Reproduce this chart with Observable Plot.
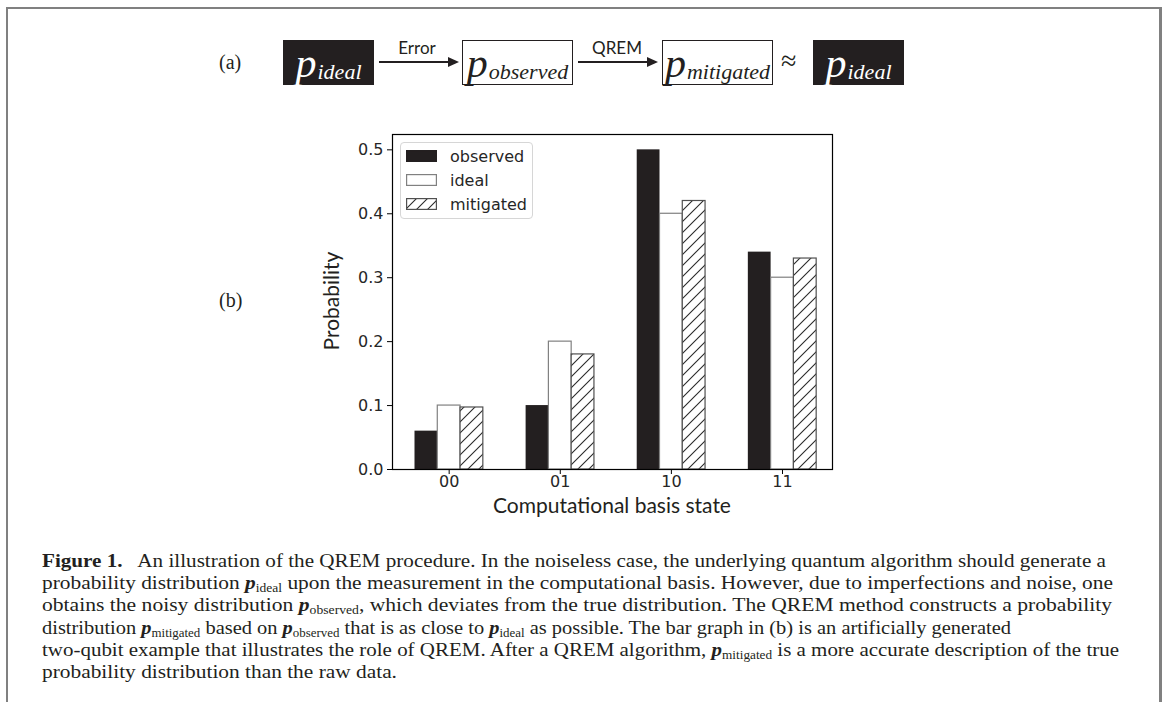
<!DOCTYPE html>
<html>
<head>
<meta charset="utf-8">
<script src="https://cdn.jsdelivr.net/npm/d3@7"></script>
<script src="https://cdn.jsdelivr.net/npm/@observablehq/plot@0.6"></script>
<style>
  html, body { margin: 0; padding: 0; background: #fff; }
  #page { position: relative; width: 1165px; height: 702px; overflow: hidden; background: #fff; color: #231f20; }
  .abs { position: absolute; }
  .frameline { position: absolute; background: #808080; }
  .serif { font-family: "Liberation Serif", "DejaVu Serif", serif; }
  .box { position: absolute; box-sizing: border-box; display: flex; align-items: center; justify-content: center;
         font-family: "Liberation Serif", serif; font-style: italic; white-space: nowrap; }
  .box.dark { background: #231f20; color: #fff; }
  .box.light { background: #fff; color: #231f20; border: 1.3px solid #231f20; }
  .box .p { font-size: 42px; line-height: 1; }
  .box .sub { font-size: 22px; position: relative; top: 9px; margin-left: 1px; }
  .arrowlbl { position: absolute; font-family: Lato, "Open Sans", sans-serif; font-size: 17px; transform: translateX(-50%); white-space: nowrap; }
  .cap { position: absolute; left: 42px; font-family: "Liberation Serif", serif; font-size: 19px; white-space: nowrap; transform-origin: 0 50%; color: #231f20; }
  .cap sub { font-size: 12px; vertical-align: -3px; line-height: 0; }
  .cap .pv { font-weight: bold; font-style: italic; }
  #legend { position: absolute; left: 400px; top: 142px; width: 133px; height: 77px; box-sizing: border-box;
            border: 1px solid #d6d6d6; border-radius: 4px; background: rgba(255,255,255,0.85);
            font-family: "DejaVu Sans", sans-serif; font-size: 16px; color: #262626; }
  .lg { position: absolute; left: 5px; height: 20px; display: flex; align-items: center; }
  .lg svg { margin-right: 13px; }
  .axlbl { position: absolute; font-family: Lato, "Open Sans", sans-serif; font-size: 21px; color: #231f20; white-space: nowrap; }
</style>
</head>
<body>
<div id="page">
  <div class="frameline" style="left:6px; top:7px; width:1155px; height:2px;"></div>
  <div class="frameline" style="left:6px; top:7px; width:2px; height:700px;"></div>
  <div class="frameline" style="left:1159px; top:7px; width:2.5px; height:700px;"></div>

  <!-- (a) diagram -->
  <div class="abs serif" style="left:219px; top:51px; font-size:20px;">(a)</div>
  <div class="box dark" style="left:283px; top:40px; width:91px; height:45px;"><span class="p">p</span><span class="sub">ideal</span></div>
  <svg class="abs" style="left:376px; top:52px;" width="86" height="20"><line x1="3" y1="10" x2="74" y2="10" stroke="#231f20" stroke-width="2"/><path d="M72,5 L83,10 L72,15 Z" fill="#231f20"/></svg>
  <div class="arrowlbl" style="left:417px; top:37px;">Error</div>
  <div class="box light" style="left:462px; top:40px; width:111px; height:45px;"><span class="p">p</span><span class="sub">observed</span></div>
  <svg class="abs" style="left:575px; top:52px;" width="86" height="20"><line x1="3" y1="10" x2="74" y2="10" stroke="#231f20" stroke-width="2"/><path d="M72,5 L83,10 L72,15 Z" fill="#231f20"/></svg>
  <div class="arrowlbl" style="left:617px; top:37px;">QREM</div>
  <div class="box light" style="left:662px; top:40px; width:111px; height:45px;"><span class="p">p</span><span class="sub">mitigated</span></div>
  <div class="abs serif" style="left:781px; top:45px; font-size:28px;">≈</div>
  <div class="box dark" style="left:813px; top:40px; width:91px; height:45px;"><span class="p">p</span><span class="sub">ideal</span></div>

  <!-- (b) -->
  <div class="abs serif" style="left:219px; top:289px; font-size:20px;">(b)</div>
  <div id="chart" class="abs" style="left:300px; top:120px;"></div>
  <div class="axlbl" id="ylbl" style="left:330px; top:301px; transform: translate(-50%,-50%) rotate(-90deg);">Probability</div>
  <div class="axlbl" id="xlbl" style="left:612px; top:504px; transform: translate(-50%,-50%);">Computational basis state</div>
  <div id="legend"></div>

  <!-- caption -->
  <div class="cap" data-w="1064" style="top:550px;"><b>Figure 1.</b>&ensp; An illustration of the QREM procedure. In the noiseless case, the underlying quantum algorithm should generate a</div>
  <div class="cap" data-w="1071" style="top:572px;">probability distribution <span class="pv">p</span><sub>ideal</sub> upon the measurement in the computational basis. However, due to imperfections and noise, one</div>
  <div class="cap" data-w="1070" style="top:594px;">obtains the noisy distribution <span class="pv">p</span><sub>observed</sub>, which deviates from the true distribution. The QREM method constructs a probability</div>
  <div class="cap" data-w="969" style="top:617px;">distribution <span class="pv">p</span><sub>mitigated</sub> based on <span class="pv">p</span><sub>observed</sub> that is as close to <span class="pv">p</span><sub>ideal</sub> as possible. The bar graph in (b) is an artificially generated</div>
  <div class="cap" data-w="1077" style="top:639px;">two-qubit example that illustrates the role of QREM. After a QREM algorithm, <span class="pv">p</span><sub>mitigated</sub> is a more accurate description of the true</div>
  <div class="cap" style="top:661px;">probability distribution than the raw data.</div>
</div>
<script>
// ---- data ----
const categories = ["00", "01", "10", "11"];
const seriesNames = ["observed", "ideal", "mitigated"];
const observed = [0.06, 0.10, 0.50, 0.34];
const ideal = [0.10, 0.20, 0.40, 0.30];
const mitigated = [0.097, 0.18, 0.42, 0.33];
const yTicks = [0.0, 0.1, 0.2, 0.3, 0.4, 0.5];

const barW = 0.205;
const seriesStyle = [
  {fill: "#231f20", stroke: "none"},
  {fill: "#ffffff", stroke: "#808080"},
  {fill: "url(#hatch)", stroke: "#505050"}
];
const seriesData = [observed, ideal, mitigated];

const marks = seriesData.map((vals, s) =>
  Plot.rect(vals, {
    x1: (d, i) => i + (s - 1) * barW - barW / 2,
    x2: (d, i) => i + (s - 1) * barW + barW / 2,
    y1: 0,
    y2: d => d,
    fill: seriesStyle[s].fill,
    stroke: seriesStyle[s].stroke,
    strokeWidth: 1.2,
    inset: 0
  })
);

const chart = Plot.plot({
  width: 560,
  height: 400,
  marginLeft: 92,
  marginRight: 28,
  marginTop: 14,
  marginBottom: 51,
  style: {fontFamily: "DejaVu Sans, sans-serif", fontSize: "16px", color: "#262626", background: "transparent"},
  x: {type: "linear", domain: [-0.51, 3.45]},
  y: {domain: [0, 0.524]},
  marks: [
    ...marks,
    Plot.frame({stroke: "#000", strokeWidth: 1.2}),
    Plot.axisY({ticks: yTicks, tickFormat: d3.format(".1f"), tickSize: 5, tickPadding: 4, label: null, stroke: "#000"}),
    Plot.axisX({ticks: [0, 1, 2, 3], tickFormat: i => categories[i], tickSize: 5, tickPadding: 1, label: null, stroke: "#000"})
  ]
});

// hatch pattern
const defs = d3.select(chart).insert("defs", ":first-child");
const pat = defs.append("pattern").attr("id", "hatch").attr("patternUnits", "userSpaceOnUse")
  .attr("width", 11).attr("height", 11);
pat.append("rect").attr("width", 11).attr("height", 11).attr("fill", "#fff");
pat.append("path").attr("d", "M-2,2 L2,-2 M0,11 L11,0 M9,13 L13,9")
  .attr("stroke", "#2a2a2a").attr("stroke-width", 1.1);
document.getElementById("chart").appendChild(chart);

// legend
const legend = document.getElementById("legend");
seriesNames.forEach((name, s) => {
  const row = document.createElement("div");
  row.className = "lg";
  row.style.top = (3 + s * 24) + "px";
  const st = seriesStyle[s];
  row.innerHTML = `<svg width="31" height="12"><rect x="0.6" y="0.6" width="29.8" height="10.8" fill="${st.fill}" stroke="${st.stroke === 'none' ? st.fill : st.stroke}" stroke-width="1.2"/></svg><span>${name}</span>`;
  legend.appendChild(row);
});

// fit caption lines to reference widths; last (unjustified) line uses the mean scale
const caps = [...document.querySelectorAll(".cap")];
const scales = [];
caps.forEach(el => {
  if (!el.dataset.w) return;
  const k = +el.dataset.w / el.getBoundingClientRect().width;
  scales.push(k);
  el.style.transform = `scaleX(${k})`;
});
const meanK = d3.mean(scales.slice(0, 3));
caps.filter(el => !el.dataset.w).forEach(el => el.style.transform = `scaleX(${meanK})`);
</script>
</body>
</html>
